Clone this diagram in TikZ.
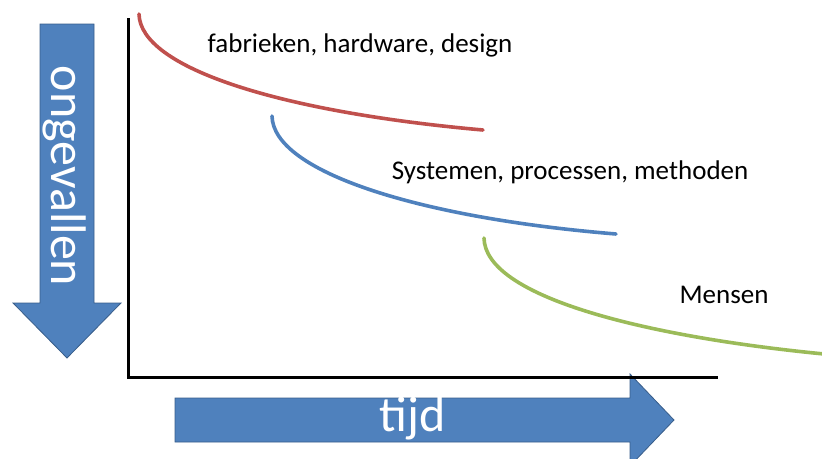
\documentclass[tikz,border=0pt]{standalone}
\usepackage{fontspec}
\setmainfont{Carlito}
\usepackage{xcolor}
\usetikzlibrary{positioning,calc}
\definecolor{arrowblue}{RGB}{79,129,189}
\definecolor{arrowedge}{RGB}{56,93,138}
\definecolor{curvered}{RGB}{192,80,77}
\definecolor{curveblue}{RGB}{79,129,189}
\definecolor{curvegreen}{RGB}{155,187,89}

\begin{document}
\begin{tikzpicture}[x=1pt, y=-1pt]
  % Styles for the block arrows, the curves and the labels
  \tikzstyle{blockarrow} = [fill=arrowblue, draw=arrowedge, line width=0.8pt, line join=miter]
  \tikzstyle{axis} = [line width=3pt, line join=miter]
  \tikzstyle{trend} = [line width=3.6pt, line cap=round]
  \tikzstyle{label} = [font=\fontsize{27}{32}\selectfont, inner sep=0pt]
  \tikzstyle{arrowtext} = [font=\fontsize{50}{60}\selectfont, text=white, inner sep=0pt]

  \useasboundingbox (0,0) rectangle (822,458);

  % Block arrow: ongevallen (downwards)
  \draw[blockarrow] (40,24) -- (94,24) -- (94,303) -- (121,303) -- (67,358) -- (13,303) -- (40,303) -- cycle;
  \node[arrowtext, rotate=-90] (ongevallen) at (65,176) {ongevallen};

  % Block arrow: tijd (to the right)
  \draw[blockarrow] (175,398) -- (630,398) -- (630,374) -- (674,420) -- (630,466) -- (630,442) -- (175,442) -- cycle;
  \node[arrowtext] (tijd) at (413,418) {tijd};

  % Axes
  \coordinate (top) at (128,18);
  \coordinate (origin) at (128,377);
  \coordinate (right) at (718,377);
  \draw[axis] (top) -- (origin) -- (right);

  % Curves
  \coordinate (redstart) at (139,14);
  \coordinate (redend) at (483,130);
  \coordinate (bluestart) at (272,116);
  \coordinate (blueend) at (616,234);
  \coordinate (greenstart) at (484,238);
  \coordinate (greenend) at (824,354);
  \draw[trend, curvered] (redstart) .. controls (140,68) and (280,112) .. (redend);
  \draw[trend, curveblue] (bluestart) .. controls (273,172) and (420,218) .. (blueend);
  \draw[trend, curvegreen] (greenstart) .. controls (485,296) and (640,336) .. (greenend);

  % Labels
  \node[label] (fabrieken) at (360,45) {fabrieken, hardware, design};
  \node[label] (systemen) at (570,172) {Systemen, processen, methoden};
  \node[label] (mensen) at (724,295) {Mensen};

\end{tikzpicture}
\end{document}
